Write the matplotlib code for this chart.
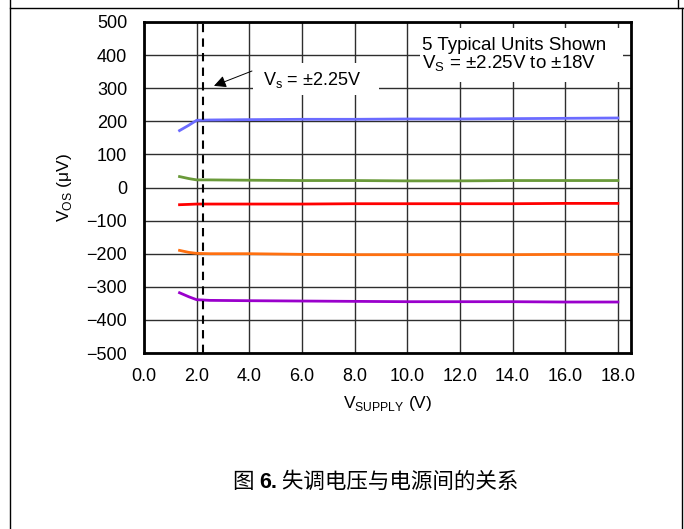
import matplotlib.pyplot as plt
from matplotlib.lines import Line2D
from matplotlib.patches import Rectangle

plt.rcParams['font.family'] = ['Liberation Sans', 'Noto Sans CJK SC', 'DejaVu Sans']
plt.rcParams['mathtext.fontset'] = 'custom'
plt.rcParams['mathtext.rm'] = 'Liberation Sans'
plt.rcParams['axes.unicode_minus'] = True

# ---------- 数据 ----------
vsupply = [1.35, 1.7, 2.0, 2.5, 4, 6, 8, 10, 12, 14, 16, 18]
unit_blue = [172, 188, 203, 204, 205, 206, 206, 207, 207, 208, 209, 210]
unit_green = [33, 27, 23, 23, 22, 21, 21, 20, 20, 21, 21, 21]
unit_red = [-52, -51, -50, -50, -50, -50, -49, -49, -49, -49, -48, -48]
unit_orange = [-190, -196, -199, -200, -200, -202, -203, -203, -203, -203, -202, -202]
unit_purple = [-318, -330, -339, -341, -342, -343, -344, -345, -345, -345, -346, -346]
xticks = [0, 2, 4, 6, 8, 10, 12, 14, 16, 18]
yticks = [-500, -400, -300, -200, -100, 0, 100, 200, 300, 400, 500]
vs_min = 2.25

# ---------- 画布 ----------
fig = plt.figure(figsize=(6.84, 5.29), dpi=100)
ax = fig.add_axes([144/684, 1-353/529, 487/684, 331/529])

ax.set_xlim(0, 18.5)
ax.set_ylim(-500, 500)
ax.set_xticks(xticks)
ax.set_xticklabels([f'{v:.1f}' for v in xticks])
ax.set_yticks(yticks)
ax.set_yticklabels([str(v).replace('-', '\u2212') for v in yticks])
ax.tick_params(length=0, labelsize=13)
ax.tick_params(axis='y', pad=12)
ax.tick_params(axis='x', pad=11)
ax.grid(True, color='#2e2e2e', lw=1.0)
ax.set_axisbelow(True)
for s in ax.spines.values():
    s.set_linewidth(2)

# ---------- 曲线 ----------
for vals, c in [(unit_blue, '#6b6bff'), (unit_green, '#6a9a3a'),
                (unit_red, '#ff0000'), (unit_orange, '#ff7010'),
                (unit_purple, '#9a00cc')]:
    ax.plot(vsupply, vals, color=c, lw=2, zorder=3)

ax.axvline(vs_min, color='black', lw=1.5, dashes=(4, 3), zorder=4)

# ---------- 注释 ----------
ax.add_patch(Rectangle((10.49, 319), 7.72, 163, fc='white', ec='none', zorder=2))
ax.text(10.55, 430, '5 Typical Units Shown', fontsize=13.5, va='center', zorder=5)
ax.text(10.55, 374, r'V$_\mathregular{S}$ = ±2.25V to ±18V', fontsize=13.5, va='center', zorder=5)

ax.add_patch(Rectangle((4.14, 279), 4.8, 97, fc='white', ec='none', zorder=2))
ax.text(4.52, 325, r'V$_\mathregular{s}$ = ±2.25V', fontsize=13, va='center', zorder=5)
ax.annotate('', xy=(2.56, 304), xytext=(4.2, 355),
            arrowprops=dict(arrowstyle='-|>', color='black', lw=0.7,
                            mutation_scale=18), zorder=5)

# ---------- 轴标签 ----------
ax.set_ylabel(r'V$_\mathregular{OS}$ (μV)', fontsize=12.5, labelpad=9)
ax.set_xlabel(r'V$_\mathregular{SUPPLY}$ (V)', fontsize=12.5, labelpad=6)

# ---------- 图题 ----------
cap_y = 1 - 482/529
t1 = fig.text(233/684, cap_y, '图 ', fontsize=15.5, va='center',
              family=['Noto Sans CJK SC'])
t2 = fig.text(0, 0, '6.', fontsize=15.5, weight='bold', va='center')
t3 = fig.text(0, 0, ' 失调电压与电源间的关系', fontsize=15.5, va='center',
              family=['Noto Sans CJK SC'])
fig.canvas.draw()
r = fig.canvas.get_renderer()
bb1 = t1.get_window_extent(r)
t2.set_position((bb1.x1/fig.bbox.width, cap_y))
bb2 = t2.get_window_extent(r)
t3.set_position((bb2.x1/fig.bbox.width, cap_y))

# ---------- 外框 ----------
H = 529
W = 684
for xs, ys in [([10, 10], [0, H]), ([10, W], [8, 8]),
               ([682, 682], [8, H]), ([678, 678], [0, 8])]:
    fig.add_artist(Line2D([x/W for x in xs], [1-y/H for y in ys],
                          color='black', lw=1))

fig.savefig('out.png', dpi=100)
